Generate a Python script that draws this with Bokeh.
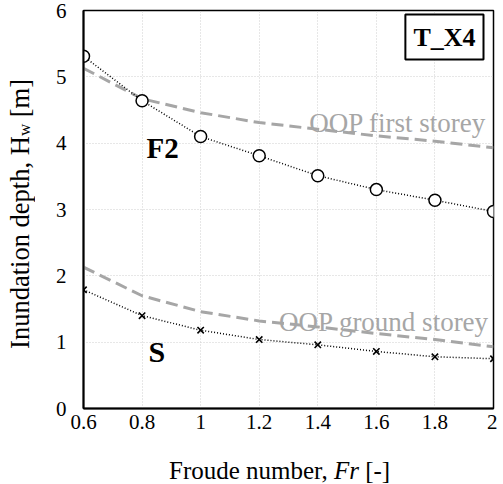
from bokeh.plotting import figure
from bokeh.models import Range1d, FixedTicker, Label, Div
from bokeh.layouts import row, column
from bokeh.embed import file_html
from bokeh.resources import INLINE

# ---- data ----
fr = [0.6, 0.8, 1.0, 1.2, 1.4, 1.6, 1.8, 2.0]
f2 = [5.31, 4.64, 4.10, 3.81, 3.51, 3.30, 3.14, 2.97]
s_vals = [1.79, 1.40, 1.18, 1.04, 0.96, 0.86, 0.78, 0.75]
oop_first = [5.13, 4.67, 4.46, 4.31, 4.21, 4.11, 4.03, 3.93]
oop_ground = [2.13, 1.70, 1.46, 1.32, 1.23, 1.13, 1.04, 0.93]

x_ticks = [0.6, 0.8, 1.0, 1.2, 1.4, 1.6, 1.8, 2.0]
x_tick_labels = ["0.6", "0.8", "1", "1.2", "1.4", "1.6", "1.8", "2"]
y_ticks = [0, 1, 2, 3, 4, 5, 6]
y_tick_labels = ["0", "1", "2", "3", "4", "5", "6"]

FONT = "Liberation Serif"
GREY = "#a6a6a6"

p = figure(width=453, height=432, output_backend="svg", toolbar_location=None,
           x_range=Range1d(0.6, 2.0), y_range=Range1d(0, 6),
           min_border_left=39, min_border_right=4, min_border_top=10, min_border_bottom=24)
p.background_fill_color = "white"
p.border_fill_color = "white"
p.outline_line_color = "black"
p.outline_line_width = 1.5

for ax in (p.xaxis[0], p.yaxis[0]):
    ax.major_tick_in = 0
    ax.major_tick_out = 0
    ax.minor_tick_in = 0
    ax.minor_tick_out = 0
    ax.axis_line_color = "black"
    ax.axis_line_width = 2
    ax.major_label_text_font = FONT
    ax.major_label_text_font_size = "21px"
    ax.major_label_text_color = "black"
p.xaxis.ticker = FixedTicker(ticks=x_ticks)
p.yaxis.ticker = FixedTicker(ticks=y_ticks)
p.xaxis.major_label_overrides = dict(zip(x_ticks, x_tick_labels))
p.yaxis.major_label_overrides = dict(zip(y_ticks, y_tick_labels))
p.xaxis.major_label_standoff = 6
p.yaxis.major_label_standoff = 17

p.xgrid[0].ticker = FixedTicker(ticks=x_ticks)
p.ygrid[0].ticker = FixedTicker(ticks=y_ticks)
for g in (p.xgrid[0], p.ygrid[0]):
    g.grid_line_color = "#cfcfcf"
    g.grid_line_dash = "1 2"
    g.grid_line_width = 1

# OOP dashed lines
p.line(fr, oop_first, line_color=GREY, line_width=3, line_dash="12 6")
p.line(fr, oop_ground, line_color=GREY, line_width=3, line_dash="12 6")

# F2 & S
p.line(fr, f2, line_color="black", line_width=1.5, line_dash="1 2")
p.scatter(fr, f2, marker="circle", size=12, fill_color="white", line_color="black", line_width=1.5)
p.line(fr, s_vals, line_color="black", line_width=1.5, line_dash="1 2")
p.scatter(fr, s_vals, marker="x", size=9, line_color="black", line_width=1.6)

# in-plot text
p.add_layout(Label(x=0.815, y=3.92, text="F2", text_font=FONT, text_font_style="bold",
                   text_font_size="29px", text_color="black", text_baseline="alphabetic"))
p.add_layout(Label(x=0.822, y=0.86, text="S", text_font=FONT, text_font_style="bold",
                   text_font_size="30px", text_color="black", text_baseline="alphabetic"))
p.add_layout(Label(x=1.975, y=4.31, text="OOP first storey", text_font=FONT,
                   text_font_size="27px", text_color=GREY, text_align="right",
                   text_baseline="alphabetic"))
p.add_layout(Label(x=1.985, y=1.31, text="OOP ground storey", text_font=FONT,
                   text_font_size="27px", text_color=GREY, text_align="right",
                   text_baseline="alphabetic"))
p.add_layout(Label(x=2.0, y=6.0, x_offset=-10, y_offset=-4, text="T_X4", text_font=FONT,
                   text_font_style="bold", text_font_size="26px", text_color="black",
                   text_align="right", text_baseline="top",
                   border_line_color="black", border_line_width=2,
                   background_fill_color="white", padding=8))

# axis titles as HTML (mixed italic / subscript)
ylab = Div(width=34, height=432, text=(
    '<div style="writing-mode:vertical-rl; transform:rotate(180deg); white-space:nowrap;'
    ' font-family:\'Liberation Serif\'; font-size:26.5px; color:black; line-height:30px;'
    ' margin-top:74px; margin-left:0px;">'
    'Inundation depth, H<span style="font-size:17px; position:relative; left:-5px;">w</span> [m]</div>'))
xlab = Div(width=487, height=36, text=(
    '<div style="white-space:nowrap; font-family:\'Liberation Serif\'; font-size:25px;'
    ' color:black; line-height:20px; padding-top:14px; padding-left:164px;">'
    'Froude number, <i>Fr</i> [-]</div>'))

layout = column(row(ylab, p, spacing=0), xlab, spacing=0)

open("out.html", "w").write(file_html(layout, INLINE))
